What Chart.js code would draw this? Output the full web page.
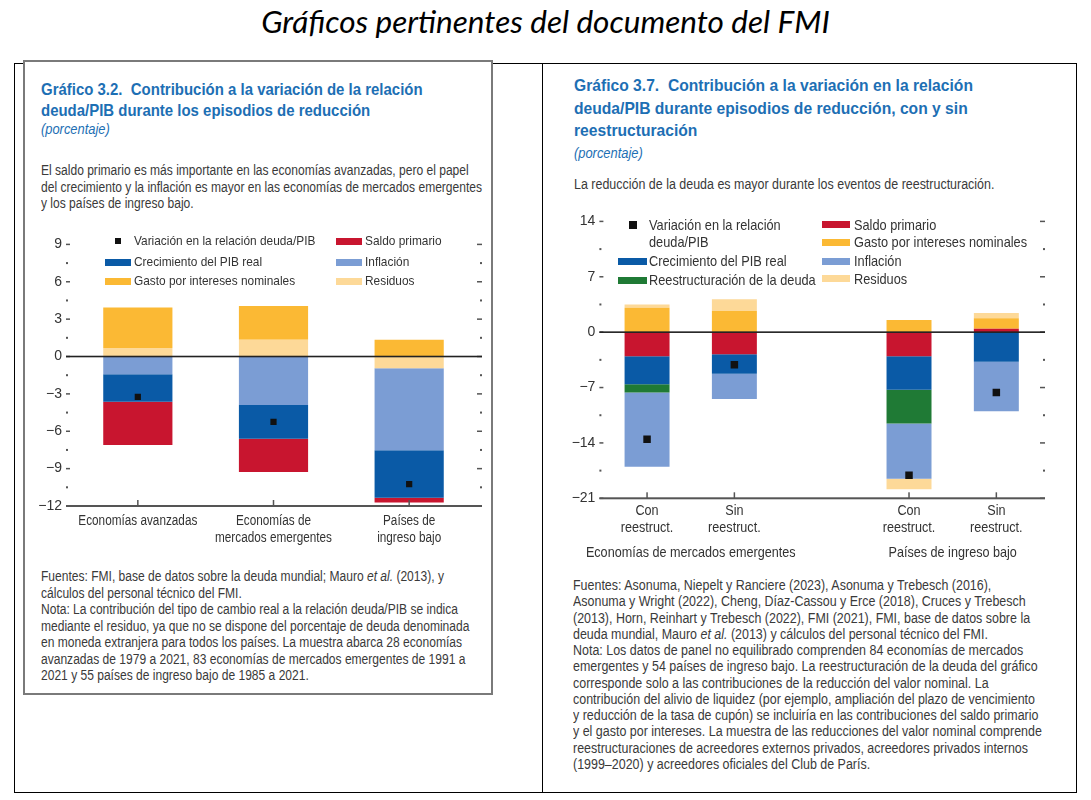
<!DOCTYPE html>
<html lang="es">
<head>
<meta charset="utf-8">
<title>Gráficos pertinentes del documento del FMI</title>
<script src="https://cdn.jsdelivr.net/npm/chart.js@4.4.1/dist/chart.umd.min.js"></script>
<style>
  body { margin: 0; background: #fff; }
  #page { position: relative; width: 1091px; height: 800px; overflow: hidden;
          font-family: "Liberation Sans", Arial, sans-serif; color: #3a3a3a; }
  .abs { position: absolute; white-space: nowrap; }
  .cond { transform: scaleX(0.86); transform-origin: 0 0; }
  .cond2 { transform: scaleX(0.89); transform-origin: 0 0; }
  .ttl { color: #1d6fb4; font-weight: bold; font-size: 17px; line-height: 21px; transform: scaleX(0.88); transform-origin: 0 0; }
  .pct { color: #1d6fb4; font-style: italic; font-size: 14px; line-height: 16px; transform: scaleX(0.92); transform-origin: 0 0; }
  .txt { font-size: 14px; line-height: 16.5px; }
  .leg { font-size: 13.5px; line-height: 16px; color: #333; transform: scaleX(0.88); transform-origin: 0 0; }
  #main { left: 0; width: 1091px; top: 2px; text-align: center; font-family: Lato, sans-serif;
          font-style: italic; font-size: 31.5px; color: #000; }
  #outer { left: 14px; top: 63px; width: 1061px; height: 728px; border: 1px solid #000; }
  #divider { left: 542px; top: 63px; width: 1px; height: 729px; background: #000; }
  #box1 { left: 23px; top: 60px; width: 466px; height: 631px; border: 2px solid #7a7a7a; background: #fff; }
  canvas { position: absolute; }
</style>
</head>
<body>
<div id="page">
  <div class="abs" id="main">Gráficos pertinentes del documento del FMI</div>
  <div class="abs" id="outer"></div>
  <div class="abs" id="divider"></div>
  <div class="abs" id="box1"></div>

  <!-- Gráfico 3.2 -->
  <div class="abs ttl" style="left:41px; top:79px;">Gráfico 3.2.&nbsp; Contribución a la variación de la relación<br>deuda/PIB durante los episodios de reducción</div>
  <div class="abs pct" style="left:41px; top:121px;">(porcentaje)</div>
  <div class="abs txt cond" style="left:41px; top:162px;">El saldo primario es más importante en las economías avanzadas, pero el papel<br>del crecimiento y la inflación es mayor en las economías de mercados emergentes<br>y los países de ingreso bajo.</div>
  <canvas id="c32" style="left:20px; top:228px;" width="470" height="330"></canvas>
  <div class="abs txt cond" style="left:41px; top:568px;">Fuentes: FMI, base de datos sobre la deuda mundial; Mauro <i>et al.</i> (2013), y<br>cálculos del personal técnico del FMI.<br>Nota: La contribución del tipo de cambio real a la relación deuda/PIB se indica<br>mediante el residuo, ya que no se dispone del porcentaje de deuda denominada<br>en moneda extranjera para todos los países. La muestra abarca 28 economías<br>avanzadas de 1979 a 2021, 83 economías de mercados emergentes de 1991 a<br>2021 y 55 países de ingreso bajo de 1985 a 2021.</div>

  <!-- Gráfico 3.7 -->
  <div class="abs ttl" style="left:574px; top:75px; line-height:22.5px; transform:scaleX(0.92);">Gráfico 3.7.&nbsp; Contribución a la variación en la relación<br>deuda/PIB durante episodios de reducción, con y sin<br>reestructuración</div>
  <div class="abs pct" style="left:574px; top:145px;">(porcentaje)</div>
  <div class="abs txt cond2" style="left:574px; top:176px;">La reducción de la deuda es mayor durante los eventos de reestructuración.</div>
  <canvas id="c37" style="left:550px; top:205px;" width="515" height="365"></canvas>
  <div class="abs txt cond2" style="left:573px; top:577px; line-height:16.25px;">Fuentes: Asonuma, Niepelt y Ranciere (2023), Asonuma y Trebesch (2016),<br>Asonuma y Wright (2022), Cheng, Díaz-Cassou y Erce (2018), Cruces y Trebesch<br>(2013), Horn, Reinhart y Trebesch (2022), FMI (2021), FMI, base de datos sobre la<br>deuda mundial, Mauro <i>et al.</i> (2013) y cálculos del personal técnico del FMI.<br>Nota: Los datos de panel no equilibrado comprenden 84 economías de mercados<br>emergentes y 54 países de ingreso bajo. La reestructuración de la deuda del gráfico<br>corresponde solo a las contribuciones de la reducción del valor nominal. La<br>contribución del alivio de liquidez (por ejemplo, ampliación del plazo de vencimiento<br>y reducción de la tasa de cupón) se incluiría en las contribuciones del saldo primario<br>y el gasto por intereses. La muestra de las reducciones del valor nominal comprende<br>reestructuraciones de acreedores externos privados, acreedores privados internos<br>(1999–2020) y acreedores oficiales del Club de París.</div>
</div>

<script>
// ---------- Gráfico 3.2 data ----------
const cats32 = [["Economías avanzadas"], ["Economías de", "mercados emergentes"], ["Países de", "ingreso bajo"]];
const residuos32 = [0.69, 1.35, -0.95];
const inflacion32 = [-1.43, -3.9, -6.58];
const gasto32 = [3.24, 2.71, 1.35];
const crecimiento32 = [-2.2, -2.7, -3.8];
const saldo32 = [-3.47, -2.68, -0.39];
const variacion32 = [-3.24, -5.25, -10.24];

// ---------- Gráfico 3.7 data ----------
const cats37 = [["Con", "reestruct."], ["Sin", "reestruct."], "", ["Con", "reestruct."], ["Sin", "reestruct."]];
const grupos37 = ["Economías de mercados emergentes", "Países de ingreso bajo"];
const saldo37 = [-3.04, -2.79, null, -3.04, 0.42];
const crecimiento37 = [-3.54, -2.46, null, -4.25, -3.75];
const reestruct37 = [-1.04, 0, null, -4.25, 0];
const gasto37 = [3.08, 2.67, null, 1.54, 1.33];
const inflacion37 = [-9.38, -3.21, null, -7.0, -6.25];
const residuos37 = [0.42, 1.5, null, -1.33, 0.67];
const variacion37 = [-13.54, -4.13, null, -18.1, -7.63];

const COL = {
  saldo: "#c8152f", crec: "#0a5aa6", infl: "#7b9dd4",
  gasto: "#fbb934", resid: "#fdd998", reest: "#1f7a35", marker: "#111"
};
const FONT = '"Liberation Sans", Arial, sans-serif';

Chart.defaults.font.family = FONT;
Chart.defaults.color = "#333";

// condensed text on the canvas (the original uses a narrow face)
function condText(ctx, t, x, y, k) {
  ctx.save();
  ctx.translate(x, y);
  ctx.scale(k, 1);
  ctx.fillText(t, 0, 0);
  ctx.restore();
}

// tick marks, zero line, bottom axis, category labels and group labels
const decorPlugin = {
  id: "decor",
  afterDatasetsDraw(chart, args, o) {
    const { ctx, chartArea: a, scales: { x, y } } = chart;
    const L = a.left - o.extL, R = a.right + o.extR;
    ctx.save();
    ctx.fillStyle = "#555";
    for (let v = y.min; v <= y.max + 1e-9; v += o.minor) {
      const py = y.getPixelForValue(v);
      if (Math.abs(v % o.major) < 1e-9) {
        ctx.fillRect(L, py - 0.75, o.extL, 1.5);
        ctx.fillRect(a.right, py - 0.75, o.extR, 1.5);
      } else {
        ctx.fillRect(L, py - 1, 2, 2);
        ctx.fillRect(R - 2, py - 1, 2, 2);
      }
    }
    const y0 = y.getPixelForValue(0);
    ctx.fillStyle = "#222";
    ctx.fillRect(L, y0 - 0.8, R - L, 1.6);
    const yb = y.getPixelForValue(y.min);
    ctx.fillStyle = "#555";
    ctx.fillRect(L, yb - 1, R - L, 2);
    o.tickIdx.forEach(i => {
      const px = x.getPixelForValue(i);
      ctx.fillRect(px - 0.75, yb - 6, 1.5, 6);
    });

    ctx.fillStyle = "#333";
    ctx.font = o.labelFont;
    ctx.textAlign = "center";
    ctx.textBaseline = "middle";
    chart.data.labels.forEach((lab, i) => {
      const lines = Array.isArray(lab) ? lab : [lab];
      const px = x.getPixelForValue(i);
      lines.forEach((t, k) => condText(ctx, t, px, yb + o.labelDy + k * o.labelLh, o.cond));
    });
    if (o.groups) {
      o.groups.forEach(g => {
        const mid = (x.getPixelForValue(g.from) + x.getPixelForValue(g.to)) / 2;
        condText(ctx, g.text, mid, yb + o.groupDy, o.cond);
      });
    }
    ctx.restore();
  }
};

const minus = v => (v < 0 ? "\u2212" + Math.abs(v) : String(v));

function makeChart(id, labels, datasets, cfg) {
  return new Chart(document.getElementById(id), {
    type: "bar",
    data: { labels, datasets },
    options: {
      responsive: false,
      animation: false,
      layout: { padding: { top: cfg.padTop, right: cfg.padRight, left: 0, bottom: 0 } },
      datasets: { bar: { categoryPercentage: cfg.catPct, barPercentage: 1 } },
      plugins: { legend: { display: false }, tooltip: { enabled: false }, decor: cfg.decor },
      scales: {
        x: {
          stacked: true,
          grid: { display: false, drawTicks: false },
          border: { display: false },
          ticks: { display: false },
          afterFit: s => { s.height = cfg.xHeight; }
        },
        y: {
          stacked: true,
          min: cfg.min, max: cfg.max,
          grid: { display: false, drawTicks: false },
          border: { display: false },
          ticks: { stepSize: cfg.major, padding: 8, font: { size: cfg.yFont }, color: "#333", callback: minus },
          afterFit: s => { s.width = cfg.yWidth; }
        }
      }
    },
    plugins: [decorPlugin]
  });
}

function bar(label, data, color) {
  return { label, data, backgroundColor: color, borderWidth: 0, stack: "s" };
}
function marks(data, r) {
  return { type: "line", label: "Variación en la relación deuda/PIB", data, showLine: false,
           pointStyle: "rect", pointRadius: r, pointBackgroundColor: COL.marker, pointBorderWidth: 0, stack: "m" };
}

makeChart("c32", cats32, [
  marks(variacion32, 4.4),
  bar("Residuos", residuos32, COL.resid),
  bar("Inflación", inflacion32, COL.infl),
  bar("Gasto por intereses nominales", gasto32, COL.gasto),
  bar("Crecimiento del PIB real", crecimiento32, COL.crec),
  bar("Saldo primario", saldo32, COL.saldo)
], {
  min: -12, max: 9, major: 3, padTop: 13, padRight: 13, yWidth: 50, xHeight: 52,
  catPct: 0.51, yFont: 14,
  decor: { minor: 1.5, major: 3, extL: 4, extR: 5, tickIdx: [0, 1, 2],
           labelFont: "14px " + FONT, labelDy: 15, labelLh: 17, cond: 0.84 }
});

makeChart("c37", cats37, [
  marks(variacion37, 5.3),
  bar("Saldo primario", saldo37, COL.saldo),
  bar("Crecimiento del PIB real", crecimiento37, COL.crec),
  bar("Reestructuración de la deuda", reestruct37, COL.reest),
  bar("Gasto por intereses nominales", gasto37, COL.gasto),
  bar("Inflación", inflacion37, COL.infl),
  bar("Residuos", residuos37, COL.resid)
], {
  min: -21, max: 14, major: 7, padTop: 13.3, padRight: 25, yWidth: 53.4, xHeight: 71.7,
  catPct: 0.515, yFont: 14,
  decor: { minor: 3.5, major: 7, extL: 4, extR: 5, tickIdx: [0, 1, 3, 4],
           labelFont: "14.5px " + FONT, labelDy: 13, labelLh: 17, cond: 0.87,
           groups: [{ from: 0, to: 1, text: grupos37[0] }, { from: 3, to: 4, text: grupos37[1] }],
           groupDy: 55 }
});

// ---------- legends (HTML, laid out like the original) ----------
const page = document.getElementById("page");
function swatch(x, yc, w, h, color) {
  const d = document.createElement("div");
  d.className = "abs";
  Object.assign(d.style, { left: x + "px", top: (yc - h / 2) + "px", width: w + "px", height: h + "px", background: color });
  page.appendChild(d);
}
// yc is the centre of the first text line
function legText(x, yc, html, size, lh) {
  const d = document.createElement("div");
  d.className = "abs leg";
  d.innerHTML = html;
  Object.assign(d.style, { left: x + "px", top: (yc - lh / 2) + "px", fontSize: size + "px", lineHeight: lh + "px" });
  page.appendChild(d);
}

// Gráfico 3.2 legend
swatch(115, 241, 6, 6, COL.marker); legText(134, 241, "Variación en la relación deuda/PIB", 13.5, 16);
swatch(336, 241, 26, 7, COL.saldo); legText(365, 241, "Saldo primario", 13.5, 16);
swatch(105, 262, 26, 7, COL.crec);  legText(134, 262, "Crecimiento del PIB real", 13.5, 16);
swatch(336, 262, 26, 7, COL.infl);  legText(365, 262, "Inflación", 13.5, 16);
swatch(105, 281, 26, 7, COL.gasto); legText(134, 281, "Gasto por intereses nominales", 13.5, 16);
swatch(336, 281, 26, 7, COL.resid); legText(365, 281, "Residuos", 13.5, 16);

// Gráfico 3.7 legend
swatch(629, 224.5, 8, 8, COL.marker); legText(649, 225, "Variación en la relación<br>deuda/PIB", 14.5, 17);
swatch(822, 224.5, 28, 7, COL.saldo); legText(854, 225, "Saldo primario", 14.5, 17);
swatch(822, 242, 28, 7, COL.gasto);   legText(854, 242, "Gasto por intereses nominales", 14.5, 17);
swatch(618, 261, 29, 7, COL.crec);    legText(649, 261, "Crecimiento del PIB real", 14.5, 17);
swatch(822, 261, 28, 7, COL.infl);    legText(854, 261, "Inflación", 14.5, 17);
swatch(618, 280.5, 29, 7, COL.reest); legText(649, 280, "Reestructuración de la deuda", 14.5, 17);
swatch(822, 278.5, 28, 7, COL.resid); legText(854, 279, "Residuos", 14.5, 17);
</script>
</body>
</html>
